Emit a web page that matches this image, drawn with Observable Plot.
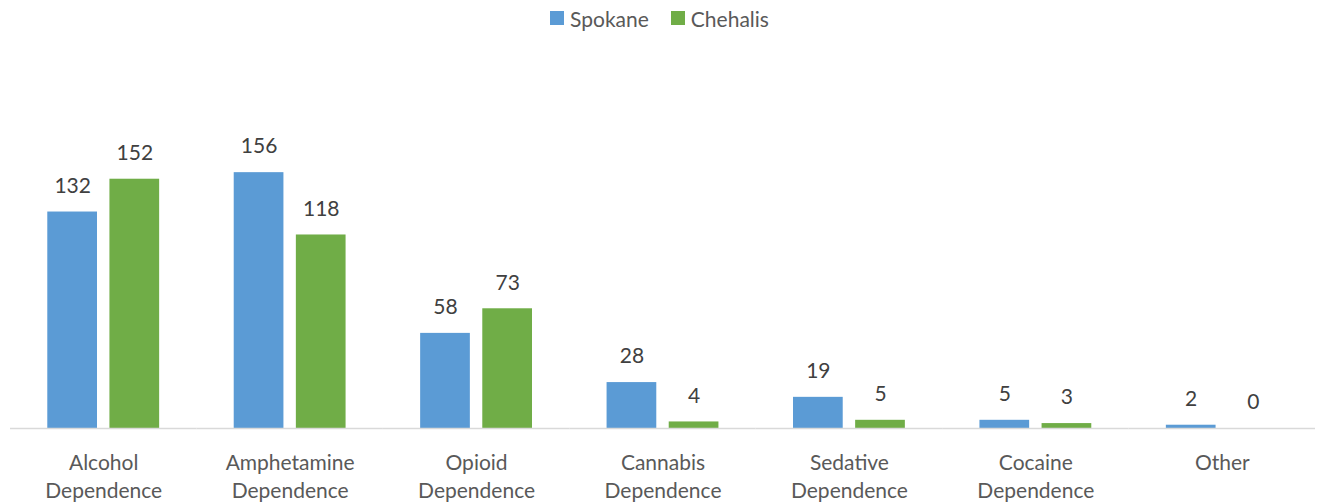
<!DOCTYPE html>
<html>
<head>
<meta charset="utf-8">
<script src="https://cdn.jsdelivr.net/npm/d3@7"></script>
<script src="https://cdn.jsdelivr.net/npm/@observablehq/plot@0.6"></script>
<style>
  body { margin: 0; background: #fff; font-family: Lato, "Open Sans", sans-serif; }
  #legend { height: 36px; display: flex; justify-content: center; align-items: center; gap: 22px; font-size: 21px; color: #595959; padding-left: 0px; }
  .item { display: flex; align-items: center; gap: 6px; }
  .sw { width: 14px; height: 14px; display: inline-block; }
</style>
</head>
<body>
<div id="legend"></div>
<div id="chart"></div>
<script>
const categories = ["Alcohol Dependence", "Amphetamine Dependence", "Opioid Dependence", "Cannabis Dependence", "Sedative Dependence", "Cocaine Dependence", "Other"];
const seriesNames = ["Spokane", "Chehalis"];
const spokane = [132, 156, 58, 28, 19, 5, 2];
const chehalis = [152, 118, 73, 4, 5, 3, 0];
const colors = ["#5B9BD5", "#70AD47"];

const data = [];
categories.forEach((c, i) => {
  data.push({category: c, series: "Spokane", value: spokane[i]});
  data.push({category: c, series: "Chehalis", value: chehalis[i]});
});

const legend = document.getElementById("legend");
seriesNames.forEach((s, i) => {
  const it = document.createElement("div");
  it.className = "item";
  it.innerHTML = `<span class="sw" style="background:${colors[i]}"></span><span>${s}</span>`;
  legend.appendChild(it);
});

const labelText = c => c.replace(" Dependence", "\nDependence");

const chart = Plot.plot({
  width: 1319,
  height: 468,
  marginLeft: 10,
  marginRight: 4,
  marginTop: 64,
  marginBottom: 76,
  style: {fontFamily: "Lato, 'Open Sans', sans-serif", background: "#fff"},
  fx: {domain: categories, padding: 0, round: false, label: null},
  x: {domain: seriesNames, paddingInner: 0.2, paddingOuter: 0.6, round: false, axis: null},
  y: {domain: [0, 200], axis: null},
  color: {domain: seriesNames, range: colors},
  marks: [
    Plot.barY(data, {fx: "category", x: "series", y: "value", fill: "series"}),
    Plot.ruleY([0], {stroke: "#d9d9d9", strokeWidth: 1.5}),
    Plot.text(data, {fx: "category", x: "series", y: "value", text: d => String(d.value), dy: -26, fill: "#404040", fontSize: 21, lineAnchor: "middle"}),
    Plot.axisFx({anchor: "bottom", tickSize: 0, tickPadding: 22, fontSize: 21, lineHeight: 1.33, fill: "#595959", tickFormat: labelText, label: null})
  ]
});
document.getElementById("chart").appendChild(chart);
</script>
</body>
</html>
